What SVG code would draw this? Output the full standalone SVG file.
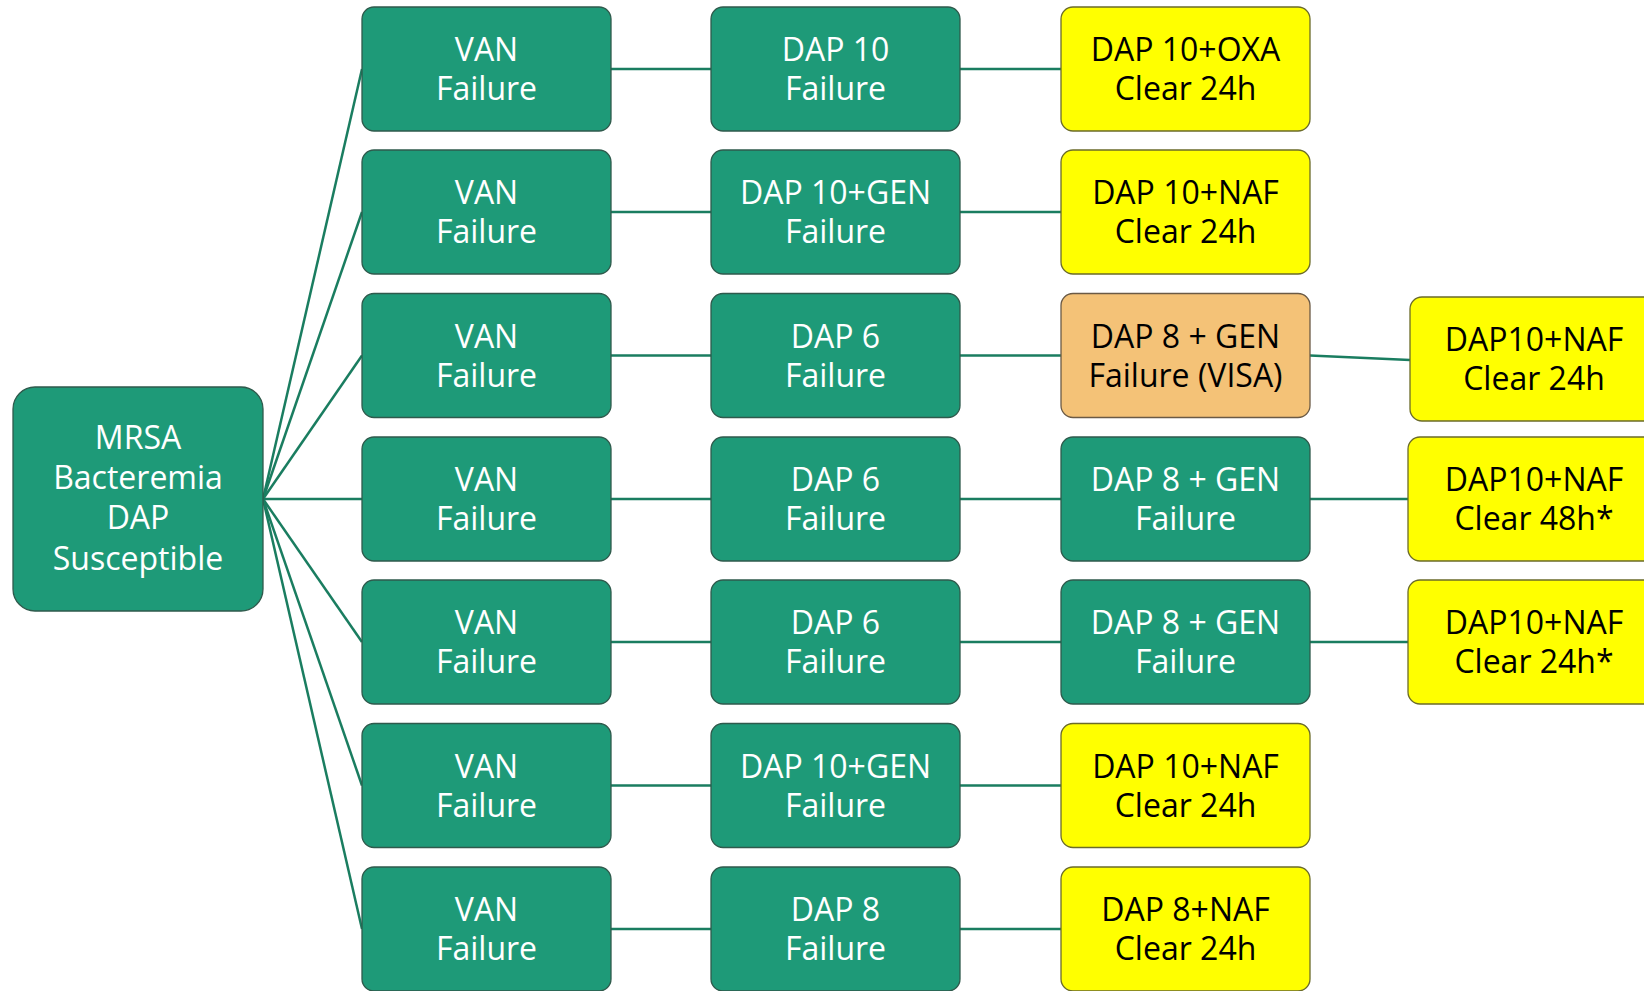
<svg xmlns="http://www.w3.org/2000/svg" width="1644" height="991" viewBox="0 0 1644 991">
<style>
.g{fill:#1e9a78;stroke:#2f5a4c;stroke-width:1.3}
.y{fill:#ffff00;stroke:#6b6b2a;stroke-width:1.3}
.o{fill:#f4c277;stroke:#6b5a45;stroke-width:1.3}
text{font-family:"Open Sans","Noto Sans","Liberation Sans",sans-serif;font-size:32px;text-anchor:middle}
.w{fill:#ffffff}
.k{fill:#000000}
#connectors line{stroke:#1a7d60;stroke-width:2.5}
</style>
<g id="connectors">
<line x1="263" y1="499" x2="362" y2="69"/>
<line x1="263" y1="499" x2="362" y2="212"/>
<line x1="263" y1="499" x2="362" y2="355.5"/>
<line x1="263" y1="499" x2="362" y2="499"/>
<line x1="263" y1="499" x2="362" y2="642"/>
<line x1="263" y1="499" x2="362" y2="785.5"/>
<line x1="263" y1="499" x2="362" y2="929"/>
<line x1="611" y1="69" x2="711" y2="69"/>
<line x1="611" y1="212" x2="711" y2="212"/>
<line x1="611" y1="355.5" x2="711" y2="355.5"/>
<line x1="611" y1="499" x2="711" y2="499"/>
<line x1="611" y1="642" x2="711" y2="642"/>
<line x1="611" y1="785.5" x2="711" y2="785.5"/>
<line x1="611" y1="929" x2="711" y2="929"/>
<line x1="960" y1="69" x2="1061" y2="69"/>
<line x1="960" y1="212" x2="1061" y2="212"/>
<line x1="960" y1="355.5" x2="1061" y2="355.5"/>
<line x1="960" y1="499" x2="1061" y2="499"/>
<line x1="960" y1="642" x2="1061" y2="642"/>
<line x1="960" y1="785.5" x2="1061" y2="785.5"/>
<line x1="960" y1="929" x2="1061" y2="929"/>
<line x1="1310" y1="355.5" x2="1410" y2="360"/>
<line x1="1310" y1="499" x2="1408" y2="499"/>
<line x1="1310" y1="642" x2="1408" y2="642"/>
</g>
<g id="root">
<rect class="g" x="13" y="387" width="250" height="224" rx="22"/>
<text class="w" x="138" y="449">MRSA</text>
<text class="w" x="138" y="489">Bacteremia</text>
<text class="w" x="138" y="529">DAP</text>
<text class="w" x="138" y="570">Susceptible</text>
</g>
<g id="van1"><rect class="g" x="362" y="7" width="249" height="124" rx="12"/><text class="w" x="486.5" y="61">VAN</text><text class="w" x="486.5" y="100">Failure</text></g>
<g id="van2"><rect class="g" x="362" y="150" width="249" height="124" rx="12"/><text class="w" x="486.5" y="204">VAN</text><text class="w" x="486.5" y="243">Failure</text></g>
<g id="van3"><rect class="g" x="362" y="293.5" width="249" height="124" rx="12"/><text class="w" x="486.5" y="347.5">VAN</text><text class="w" x="486.5" y="386.5">Failure</text></g>
<g id="van4"><rect class="g" x="362" y="437" width="249" height="124" rx="12"/><text class="w" x="486.5" y="491">VAN</text><text class="w" x="486.5" y="530">Failure</text></g>
<g id="van5"><rect class="g" x="362" y="580" width="249" height="124" rx="12"/><text class="w" x="486.5" y="634">VAN</text><text class="w" x="486.5" y="673">Failure</text></g>
<g id="van6"><rect class="g" x="362" y="723.5" width="249" height="124" rx="12"/><text class="w" x="486.5" y="777.5">VAN</text><text class="w" x="486.5" y="816.5">Failure</text></g>
<g id="van7"><rect class="g" x="362" y="867" width="249" height="124" rx="12"/><text class="w" x="486.5" y="921">VAN</text><text class="w" x="486.5" y="960">Failure</text></g>
<g id="dap1"><rect class="g" x="711" y="7" width="249" height="124" rx="12"/><text class="w" x="835.5" y="61">DAP 10</text><text class="w" x="835.5" y="100">Failure</text></g>
<g id="dap2"><rect class="g" x="711" y="150" width="249" height="124" rx="12"/><text class="w" x="835.5" y="204">DAP 10+GEN</text><text class="w" x="835.5" y="243">Failure</text></g>
<g id="dap3"><rect class="g" x="711" y="293.5" width="249" height="124" rx="12"/><text class="w" x="835.5" y="347.5">DAP 6</text><text class="w" x="835.5" y="386.5">Failure</text></g>
<g id="dap4"><rect class="g" x="711" y="437" width="249" height="124" rx="12"/><text class="w" x="835.5" y="491">DAP 6</text><text class="w" x="835.5" y="530">Failure</text></g>
<g id="dap5"><rect class="g" x="711" y="580" width="249" height="124" rx="12"/><text class="w" x="835.5" y="634">DAP 6</text><text class="w" x="835.5" y="673">Failure</text></g>
<g id="dap6"><rect class="g" x="711" y="723.5" width="249" height="124" rx="12"/><text class="w" x="835.5" y="777.5">DAP 10+GEN</text><text class="w" x="835.5" y="816.5">Failure</text></g>
<g id="dap7"><rect class="g" x="711" y="867" width="249" height="124" rx="12"/><text class="w" x="835.5" y="921">DAP 8</text><text class="w" x="835.5" y="960">Failure</text></g>
<g id="c3r1"><rect class="y" x="1061" y="7" width="249" height="124" rx="12"/><text class="k" x="1185.5" y="61">DAP 10+OXA</text><text class="k" x="1185.5" y="100">Clear 24h</text></g>
<g id="c3r2"><rect class="y" x="1061" y="150" width="249" height="124" rx="12"/><text class="k" x="1185.5" y="204">DAP 10+NAF</text><text class="k" x="1185.5" y="243">Clear 24h</text></g>
<g id="c3r3"><rect class="o" x="1061" y="293.5" width="249" height="124" rx="12"/><text class="k" x="1185.5" y="347.5">DAP 8 + GEN</text><text class="k" x="1185.5" y="386.5">Failure (VISA)</text></g>
<g id="c3r4"><rect class="g" x="1061" y="437" width="249" height="124" rx="12"/><text class="w" x="1185.5" y="491">DAP 8 + GEN</text><text class="w" x="1185.5" y="530">Failure</text></g>
<g id="c3r5"><rect class="g" x="1061" y="580" width="249" height="124" rx="12"/><text class="w" x="1185.5" y="634">DAP 8 + GEN</text><text class="w" x="1185.5" y="673">Failure</text></g>
<g id="c3r6"><rect class="y" x="1061" y="723.5" width="249" height="124" rx="12"/><text class="k" x="1185.5" y="777.5">DAP 10+NAF</text><text class="k" x="1185.5" y="816.5">Clear 24h</text></g>
<g id="c3r7"><rect class="y" x="1061" y="867" width="249" height="124" rx="12"/><text class="k" x="1185.5" y="921">DAP 8+NAF</text><text class="k" x="1185.5" y="960">Clear 24h</text></g>
<g id="c4r3"><rect class="y" x="1410" y="297" width="249" height="124" rx="12"/><text class="k" x="1534" y="351">DAP10+NAF</text><text class="k" x="1534" y="390">Clear 24h</text></g>
<g id="c4r4"><rect class="y" x="1408" y="437" width="249" height="124" rx="12"/><text class="k" x="1534" y="491">DAP10+NAF</text><text class="k" x="1534" y="530">Clear 48h*</text></g>
<g id="c4r5"><rect class="y" x="1408" y="580" width="249" height="124" rx="12"/><text class="k" x="1534" y="634">DAP10+NAF</text><text class="k" x="1534" y="673">Clear 24h*</text></g>
</svg>
